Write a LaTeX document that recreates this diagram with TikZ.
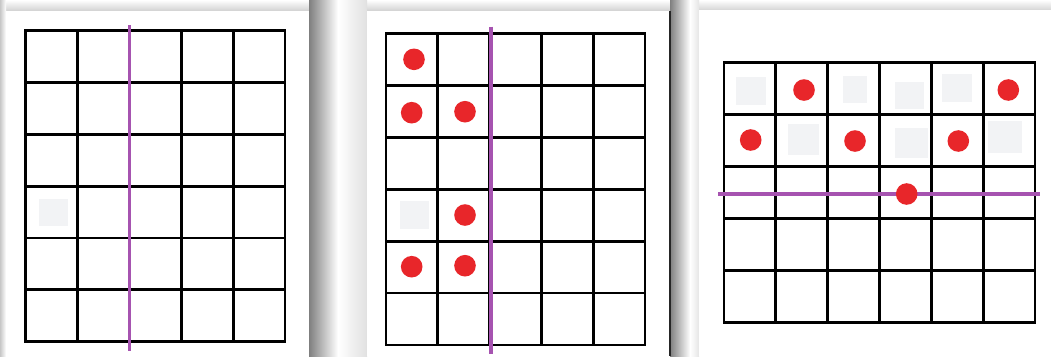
\documentclass[tikz,border=0pt]{standalone}
\usepackage{xcolor}
\definecolor{dotred}{HTML}{E8262A}
\definecolor{cutpurple}{HTML}{A653B0}
\definecolor{faint}{HTML}{F2F3F5}
\begin{document}
\begin{tikzpicture}[x=1bp,y=-1bp,
  gridline/.style={line width=2.8bp, black, line cap=rect, line join=miter},
  cutline/.style={line width=3.8bp, cutpurple},
  dot/.style={fill=dotred, draw=none},
  ghost/.style={fill=faint, draw=none},
  card/.style={fill=white, draw=none}]
\useasboundingbox (0,0) rectangle (1051,356);
% background and shadows
\fill[white] (0,0) rectangle (1051,356);
\shade[top color=white, bottom color=black!18] (0,0) rectangle (1051,11);
\shade[left color=black!22, right color=white] (0,0) rectangle (6,356);
\shade[left color=black!50, right color=white] (309,0) rectangle (338,356);
\shade[left color=white, right color=black!12] (338,0) rectangle (367,356);
\shade[left color=black!50, right color=white] (670,0) rectangle (690,356);
\shade[left color=white, right color=black!10] (690,0) rectangle (699,356);
% cards
\fill[card] (6,11) rectangle (309,356);
\fill[card] (367,11) rectangle (670,356);
\fill[card] (699,10) rectangle (1051,356);
\draw[line width=1.2bp, black!85] (670,11) -- (670,356);
% ghost squares
\fill[ghost] (39.3,199) rectangle (68.3,226);
\fill[ghost] (400,201) rectangle (429.3,229.3);
\fill[ghost] (735.7,76.7) rectangle (765.7,105);
\fill[ghost] (842.7,76) rectangle (866.7,102.7);
\fill[ghost] (895,81.7) rectangle (924,109.3);
\fill[ghost] (942.3,74) rectangle (971.7,101.7);
\fill[ghost] (788.3,124) rectangle (819,155);
\fill[ghost] (895,127.7) rectangle (927.7,158.3);
\fill[ghost] (988.3,120.7) rectangle (1021.7,152.7);
% grid 1 (5 x 6)
\foreach \i in {0,...,5} \draw[gridline] ({25.5+\i*51.9},30.7) -- ({25.5+\i*51.9},341.7);
\foreach \j in {0,...,6} \draw[gridline] (25.5,{30.7+\j*51.83}) -- (285,{30.7+\j*51.83});
% grid 2 (5 x 6)
\foreach \i in {0,...,5} \draw[gridline] ({386+\i*51.8},33.3) -- ({386+\i*51.8},345);
\foreach \j in {0,...,6} \draw[gridline] (386,{33.3+\j*51.95}) -- (645,{33.3+\j*51.95});
% grid 3 (6 x 5)
\foreach \i in {0,...,6} \draw[gridline] ({724+\i*51.83},62.3) -- ({724+\i*51.83},322.3);
\foreach \j in {0,...,5} \draw[gridline] (724,{62.3+\j*52}) -- (1035,{62.3+\j*52});
% cut lines
\coordinate (c1a) at (129.5,25); \coordinate (c1b) at (129.5,350.7);
\coordinate (c2a) at (490.7,26.7); \coordinate (c2b) at (490.7,354);
\coordinate (c3a) at (718,194); \coordinate (c3b) at (1040,194);
\draw[cutline] (c1a) -- (c1b);
\draw[cutline] (c2a) -- (c2b);
\draw[cutline] (c3a) -- (c3b);
% dots panel 2
\foreach \p in {(414,59.3),(411.7,112.7),(465,111.7),(465,215),(411.7,266.7),(465,265.7)}
  \fill[dot] \p circle (10.8);
% dots panel 3
\foreach \p in {(804,90),(1008.3,90),(750.7,140),(855,141),(958.3,141),(906.7,194)}
  \fill[dot] \p circle (10.8);
\end{tikzpicture}
\end{document}
